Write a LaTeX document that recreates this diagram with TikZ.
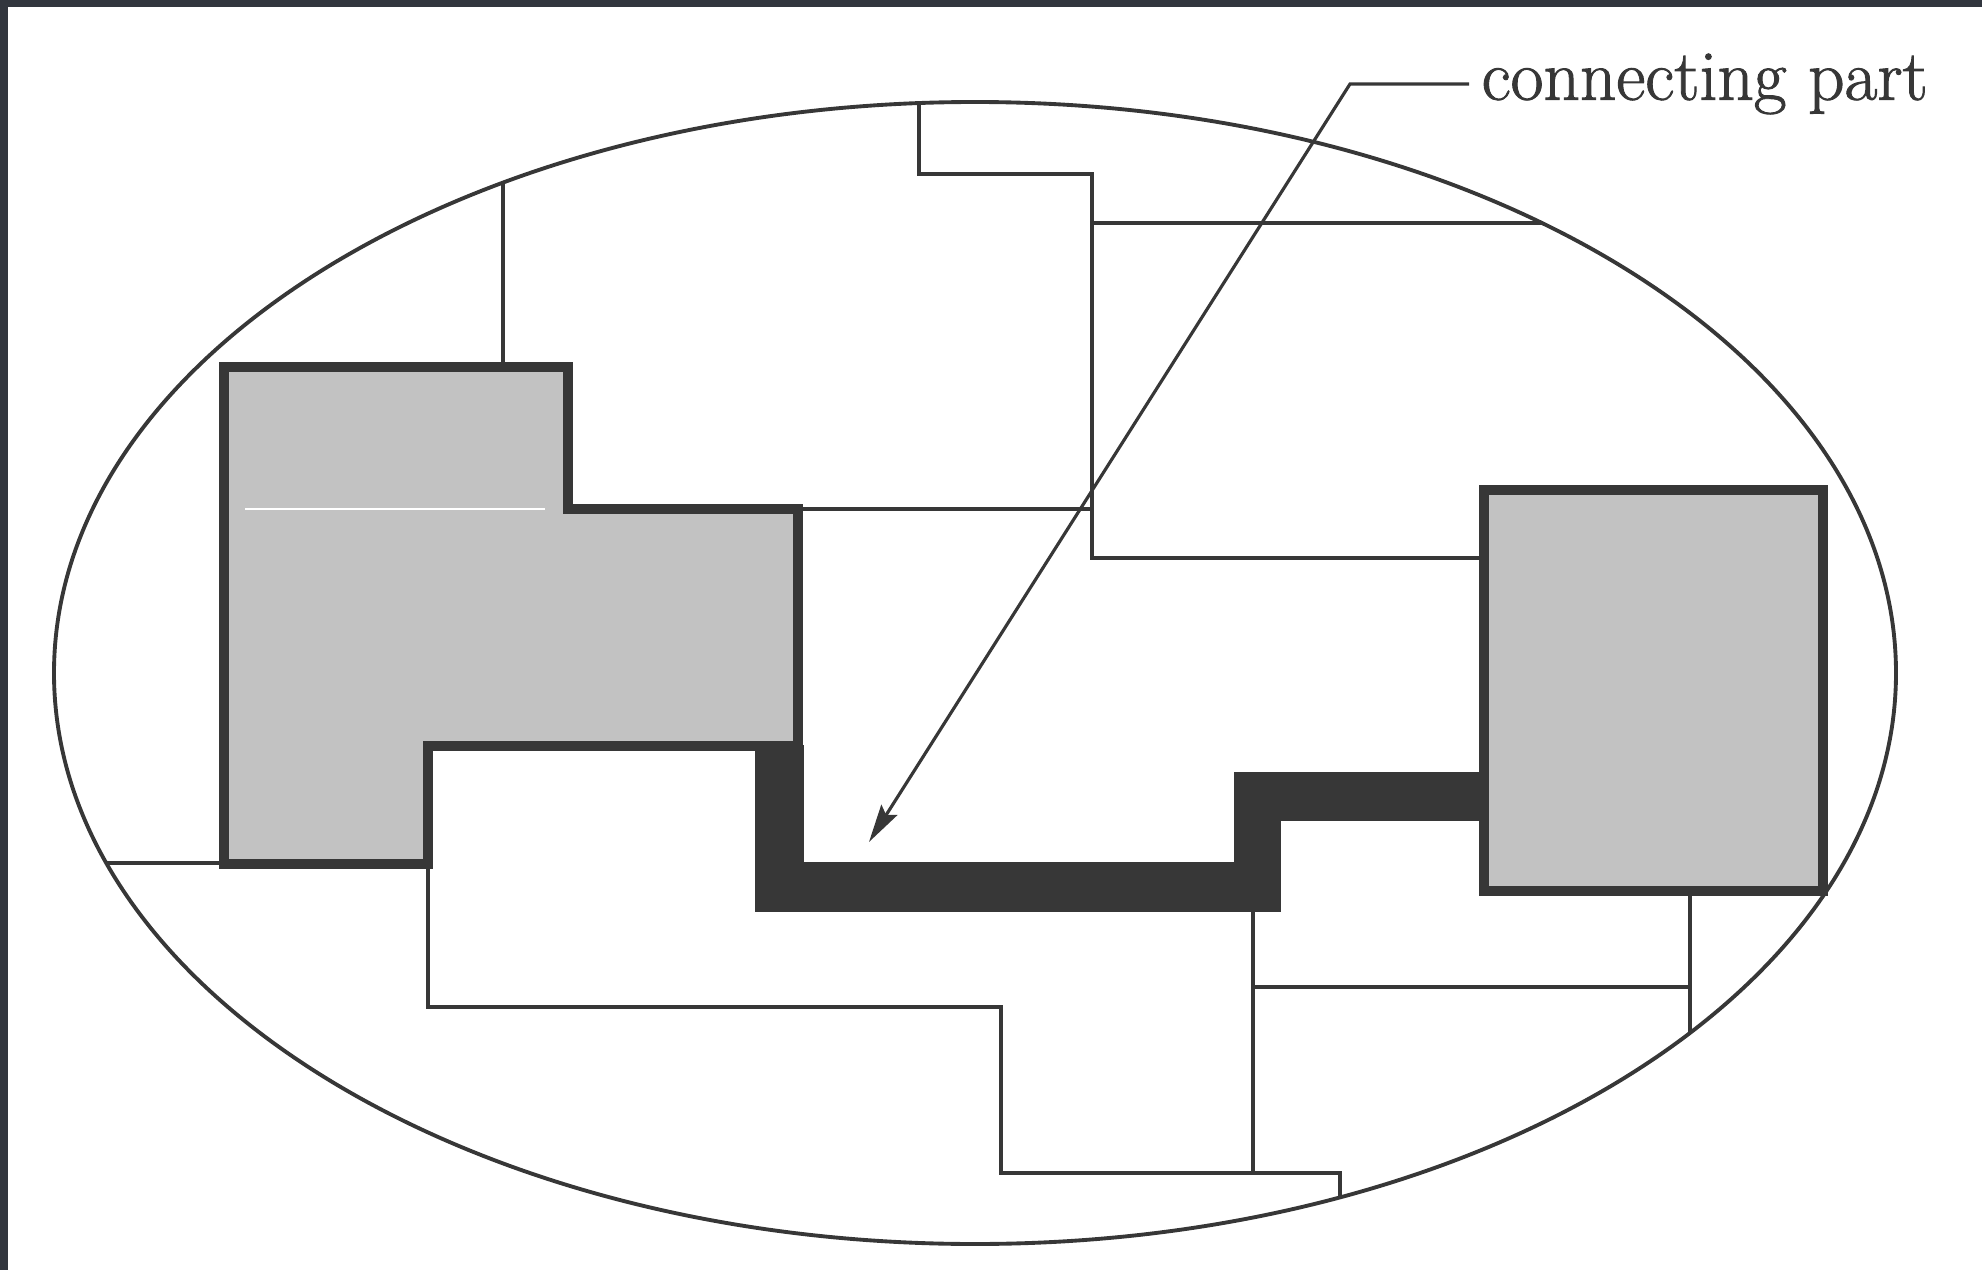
\documentclass[tikz,border=0pt]{standalone}
\usepackage{fontspec}
\usepackage{xcolor}
\usepackage{tikz}
\usetikzlibrary{arrows.meta, positioning}
\newfontfamily\lblfont{Latin Modern Roman}[FakeBold=1.3]
\definecolor{inkgray}{RGB}{55,55,55}
\definecolor{framegray}{RGB}{50,54,62}
\tikzset{
  partline/.style={draw=inkgray, line width=0.9pt},
  shadedpart/.style={draw=inkgray, fill=black!24, line width=3pt, line join=miter},
  linkpart/.style={fill=inkgray, draw=inkgray, line width=0.5pt},
  leader/.style={draw=inkgray, line width=0.9pt},
  arrow/.style={-{Stealth[length=3.8mm, width=1.9mm, inset=0.6mm]}, leader},
}

\begin{document}
\begin{tikzpicture}[
  outline/.style={draw=inkgray, line width=1.1pt},
  labeltext/.style={font=\lblfont\fontsize{20.3}{24}\selectfont, text=inkgray, inner ysep=0pt, inner xsep=1.2mm}
]
  \useasboundingbox (0,0) rectangle (19.82,-12.70);
  % Scan frame
  \fill[framegray] (0,0) rectangle (19.82,-0.07);
  \fill[framegray] (0,0) rectangle (0.08,-12.70);

  % Outline of the whole region
  \coordinate (c) at (9.75,-6.73);
  \path[outline] (c) ellipse [x radius=9.21, y radius=5.71];

  % Partition lines (clipped to the outline)
  \begin{scope}
    \clip (c) ellipse [x radius=9.21, y radius=5.71];
    \draw[partline] (5.03,-0.5) -- (5.03,-3.67);
    \draw[partline] (0,-8.63) -- (2.24,-8.63);
    \draw[partline] (9.19,-0.5) -- (9.19,-1.74) -- (10.92,-1.74) -- (10.92,-5.58) -- (14.84,-5.58);
    \draw[partline] (10.92,-2.23) -- (16.5,-2.23);
    \draw[partline] (7.98,-5.09) -- (10.92,-5.09);
    \draw[partline] (4.28,-8.64) -- (4.28,-10.07) -- (10.01,-10.07) -- (10.01,-11.73) -- (13.40,-11.73) -- (13.40,-12.6);
    \draw[partline] (12.53,-9.11) -- (12.53,-11.73);
    \draw[partline] (12.53,-9.87) -- (16.90,-9.87);
    \draw[partline] (16.90,-8.91) -- (16.90,-11);
  \end{scope}

  % Shaded parts
  \draw[shadedpart] (2.24,-3.67) -- (5.68,-3.67) -- (5.68,-5.09) -- (7.98,-5.09)
    -- (7.98,-7.46) -- (4.28,-7.46) -- (4.28,-8.64) -- (2.24,-8.64) -- cycle;
  \draw[white, line width=0.6pt] (2.45,-5.09) -- (5.45,-5.09); % faint seam
  \draw[shadedpart] (14.84,-4.90) rectangle (18.23,-8.91);

  % Connecting part
  \filldraw[linkpart] (7.56,-7.46) -- (7.56,-9.11) -- (12.80,-9.11) -- (12.80,-8.20)
    -- (14.84,-8.20) -- (14.84,-7.73) -- (12.35,-7.73) -- (12.35,-8.63)
    -- (8.03,-8.63) -- (8.03,-7.46) -- cycle;

  % Label with leader
  \node[labeltext, anchor=west] (lbl) at (14.69,-0.84) {connecting part};
  \coordinate (bend) at (13.50,-0.84);
  \coordinate (tip) at (8.69,-8.42);
  \draw[arrow] (lbl.west) -- (bend) -- (tip);

\end{tikzpicture}
\end{document}
